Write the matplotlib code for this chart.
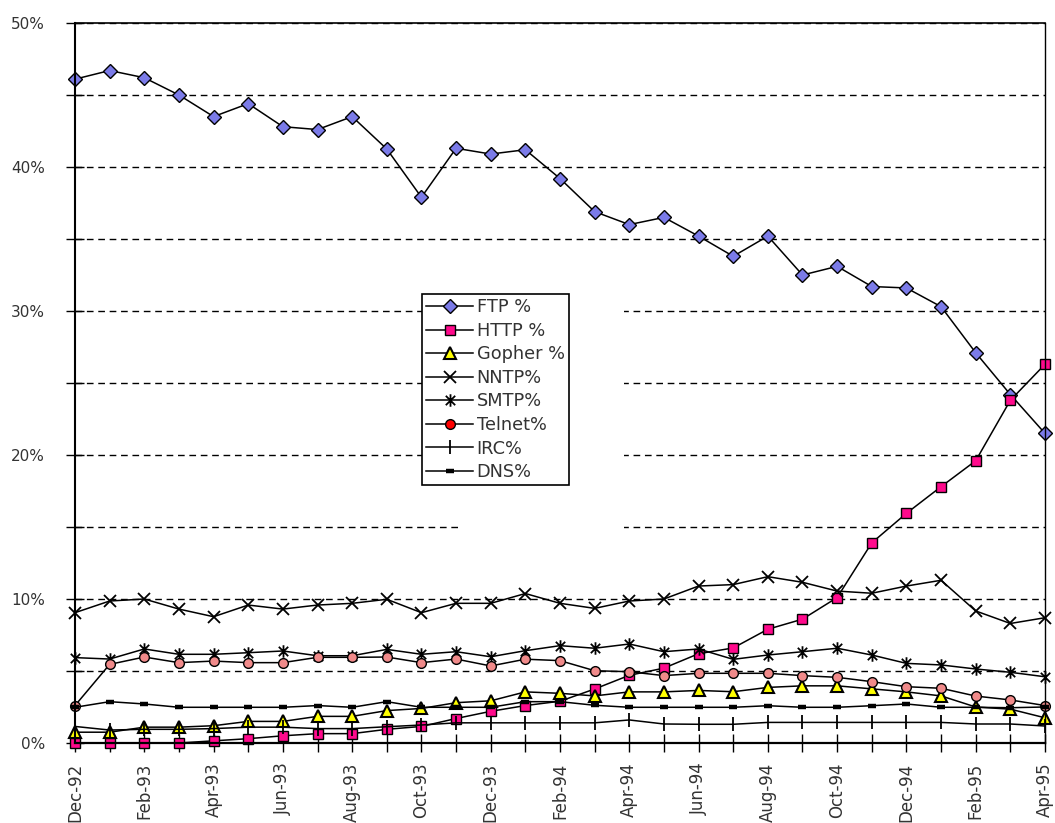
import numpy as np
import matplotlib
matplotlib.use("Agg")
import matplotlib.pyplot as plt
from matplotlib.lines import Line2D
from matplotlib.patches import Rectangle
from matplotlib.path import Path

plt.rcParams['font.family'] = ['DejaVu Sans']

months = ["Dec-92", "Jan-93", "Feb-93", "Mar-93", "Apr-93", "May-93", "Jun-93",
          "Jul-93", "Aug-93", "Sep-93", "Oct-93", "Nov-93", "Dec-93", "Jan-94",
          "Feb-94", "Mar-94", "Apr-94", "May-94", "Jun-94", "Jul-94", "Aug-94",
          "Sep-94", "Oct-94", "Nov-94", "Dec-94", "Jan-95", "Feb-95", "Mar-95",
          "Apr-95"]

ftp = [46.1, 46.7, 46.2, 45.0, 43.5, 44.4, 42.8, 42.6, 43.5, 41.25, 37.9, 41.3,
       40.9, 41.2, 39.2, 36.9, 36.0, 36.5, 35.2, 33.8, 35.2, 32.5, 33.1, 31.7,
       31.6, 30.3, 27.1, 24.2, 21.5]
http = [0.0, 0.0, 0.0, 0.0, 0.15, 0.3, 0.5, 0.65, 0.65, 0.95, 1.15, 1.7, 2.2,
        2.6, 2.9, 3.75, 4.7, 5.2, 6.2, 6.6, 7.9, 8.6, 10.1, 13.9, 15.95, 17.8,
        19.6, 23.8, 26.3]
gopher = [0.75, 0.75, 1.1, 1.1, 1.2, 1.5, 1.5, 1.85, 1.85, 2.25, 2.4, 2.8, 2.93,
          3.55, 3.45, 3.27, 3.55, 3.55, 3.65, 3.56, 3.86, 3.97, 3.97, 3.76, 3.55,
          3.27, 2.5, 2.35, 1.75]
nntp = [9.05, 9.86, 10.0, 9.3, 8.77, 9.58, 9.3, 9.58, 9.7, 9.98, 9.05, 9.7, 9.7,
        10.38, 9.7, 9.35, 9.86, 10.0, 10.9, 11.0, 11.55, 11.16, 10.55, 10.4,
        10.9, 11.3, 9.17, 8.3, 8.7]
smtp = [5.93, 5.83, 6.53, 6.16, 6.16, 6.27, 6.39, 6.06, 6.06, 6.5, 6.16, 6.34,
        5.99, 6.41, 6.76, 6.58, 6.875, 6.34, 6.53, 5.81, 6.11, 6.34, 6.58, 6.11,
        5.53, 5.42, 5.14, 4.91, 4.6]
telnet = [2.6, 5.46, 5.97, 5.58, 5.69, 5.58, 5.58, 5.95, 5.95, 5.97, 5.58, 5.83,
          5.35, 5.82, 5.72, 5.02, 4.95, 4.68, 4.84, 4.84, 4.84, 4.68, 4.56, 4.26,
          3.91, 3.8, 3.26, 2.99, 2.6]
irc = [1.15, 0.9, 0.95, 0.95, 1.0, 1.1, 1.1, 1.0, 1.0, 1.13, 1.25, 1.4, 1.4, 1.4,
       1.4, 1.4, 1.6, 1.32, 1.3, 1.3, 1.43, 1.43, 1.43, 1.43, 1.43, 1.43, 1.32,
       1.32, 1.18]
dns = [2.48, 2.87, 2.71, 2.48, 2.48, 2.48, 2.48, 2.6, 2.48, 2.87, 2.48, 2.48,
       2.48, 2.87, 2.87, 2.62, 2.48, 2.48, 2.48, 2.48, 2.59, 2.48, 2.48, 2.59,
       2.71, 2.48, 2.48, 2.45, 2.5]

labels = ["FTP %", "HTTP %", "Gopher %", "NNTP%", "SMTP%", "Telnet%", "IRC%", "DNS%"]
series = [ftp, http, gopher, nntp, smtp, telnet, irc, dns]

asterisk = Path([(0, -1), (0, 1), (-0.75, -0.75), (0.75, 0.75), (-0.75, 0.75), (0.75, -0.75)],
                [Path.MOVETO, Path.LINETO, Path.MOVETO, Path.LINETO, Path.MOVETO, Path.LINETO])

styles = [
    dict(marker='D', ms=7, mfc='#7b7be8', mec='black', mew=1.0),
    dict(marker='s', ms=6.5, mfc='#ff0a8c', mec='black', mew=1.0),
    dict(marker='^', ms=8, mfc='#ffff00', mec='black', mew=1.5),
    dict(marker='x', ms=8, mfc='none', mec='black', mew=1.3),
    dict(marker=asterisk, ms=9, mfc='none', mec='black', mew=1.3),
    dict(marker='o', ms=7, mfc='#f08a8a', mec='black', mew=1.0),
    dict(marker='|', ms=10, mfc='none', mec='black', mew=1.3),
    dict(marker='_', ms=5.5, mfc='black', mec='black', mew=3.2),
]

W, H = 1055, 823
fig = plt.figure(figsize=(W / 100, H / 100), dpi=100)
L, R, T, B = 75, 1045, 23, 743
ax = fig.add_axes([L / W, 1 - B / H, (R - L) / W, (B - T) / H])

x = np.arange(len(months))
for vals, st in zip(series, styles):
    ax.plot(x, vals, color='black', lw=1.1, clip_on=False, zorder=3, **st)

ax.set_xlim(0, len(months) - 1)
ax.set_ylim(0, 50)

ax.set_xticks(x)
ax.set_xticklabels([m if i % 2 == 0 else "" for i, m in enumerate(months)],
                   rotation=90, fontsize=12, color='#333333')
yt = np.arange(0, 51, 5)
ax.set_yticks(yt)
ax.set_yticklabels([f"{v}%" if v % 10 == 0 else "" for v in yt], fontsize=11, color='#333333')

ax.tick_params(axis='x', direction='inout', length=13, width=1.0, pad=7.5)
ax.tick_params(axis='y', direction='inout', length=13, width=1.0, pad=15)

ax.set_axisbelow(True)
ax.yaxis.grid(True, color='black', linestyle=(0, (4.8, 3.4)), lw=1.0)
ax.xaxis.grid(False)

for side, lw in [('left', 1.5), ('bottom', 1.6), ('top', 1.2), ('right', 1.0)]:
    ax.spines[side].set_linewidth(lw)
    ax.spines[side].set_color('black')
    ax.spines[side].set_zorder(4)

# white area behind the legend (hides gridlines)
x0, x1 = (460 - L) / (R - L), (624 - L) / (R - L)
y0, y1 = (B - 540) / (B - T), (B - 285) / (B - T)
ax.add_patch(Rectangle((x0, y0), x1 - x0, y1 - y0, transform=ax.transAxes,
                       facecolor='white', edgecolor='none', zorder=1))

handles = []
for st in styles:
    s = dict(st)
    if s['marker'] == 'o':
        s['mfc'] = '#ff0000'
    handles.append(Line2D([0], [0], color='black', lw=1.1, **s))

leg = ax.legend(handles, labels, loc='upper left',
                bbox_to_anchor=((422 - L) / (R - L), (B - 294) / (B - T)),
                borderaxespad=0, fontsize=12.8, labelspacing=0.31, borderpad=0.25,
                handlelength=2.6, handletextpad=0.22, fancybox=False,
                frameon=True, framealpha=1, edgecolor='black')
leg.get_frame().set_linewidth(1.2)
leg.set_zorder(5)
for t in leg.get_texts():
    t.set_color('#333333')

fig.savefig("out.png", dpi=100)
